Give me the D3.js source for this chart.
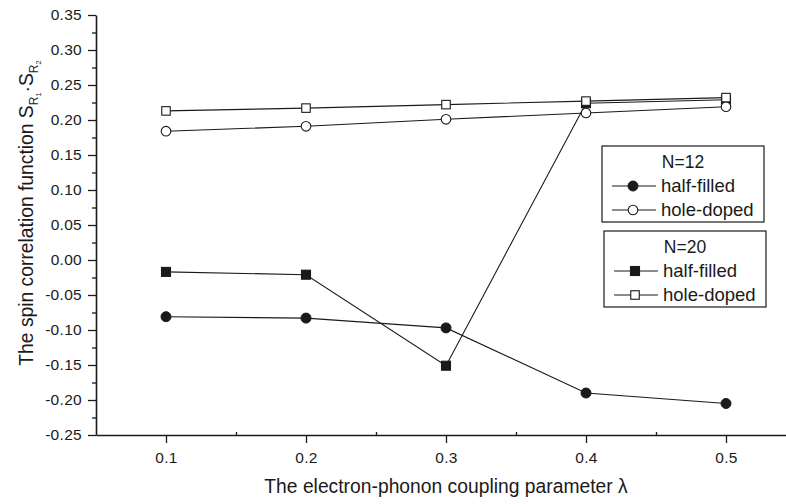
<!DOCTYPE html>
<html>
<head>
<meta charset="utf-8">
<script src="https://cdn.jsdelivr.net/npm/d3@7"></script>
<style>
  html, body { margin: 0; padding: 0; background: #fff; }
  svg text { font-family: "Liberation Sans", Arial, Helvetica, sans-serif; fill: #1a1a1a; }
  .axis text { font-size: 15.5px; letter-spacing: 0.3px; }
</style>
</head>
<body>
<svg id="chart" width="786" height="504"></svg>
<script>
// Electron-phonon coupling values along the x axis
const lambdas = [0.1, 0.2, 0.3, 0.4, 0.5];

// Spin correlation function for each system size and filling
const n12HalfFilled = [-0.081, -0.083, -0.097, -0.190, -0.205];
const n12HoleDoped  = [0.184, 0.191, 0.201, 0.210, 0.219];
const n20HalfFilled = [-0.017, -0.021, -0.151, 0.224, 0.229];
const n20HoleDoped  = [0.213, 0.217, 0.222, 0.227, 0.232];

const xTicks = [0.1, 0.2, 0.3, 0.4, 0.5];
const xMinorTicks = [0.15, 0.25, 0.35, 0.45, 0.55];
const yTicks = [0.35, 0.30, 0.25, 0.20, 0.15, 0.10, 0.05, 0.00, -0.05, -0.10, -0.15, -0.20, -0.25];
const yMinorTicks = [0.325, 0.275, 0.225, 0.175, 0.125, 0.075, 0.025, -0.025, -0.075, -0.125, -0.175, -0.225];

const series = [
  { group: "N=12", label: "half-filled", values: n12HalfFilled, shape: "circle", filled: true },
  { group: "N=12", label: "hole-doped",  values: n12HoleDoped,  shape: "circle", filled: false },
  { group: "N=20", label: "half-filled", values: n20HalfFilled, shape: "square", filled: true },
  { group: "N=20", label: "hole-doped",  values: n20HoleDoped,  shape: "square", filled: false }
];

const ink = "#1a1a1a";
const svg = d3.select("#chart");

const x = d3.scaleLinear().domain([0.05, 0.55]).range([96, 796]);
const y = d3.scaleLinear().domain([-0.25, 0.35]).range([435, 15]);

// plain hyphen for negative tick labels
const fmtY = d => d3.format(".2f")(d).replace("\u2212", "-");

// Axes: major ticks with labels, minor ticks without
svg.append("g").attr("class", "axis").attr("transform", "translate(0,435)")
  .call(d3.axisBottom(x).tickValues(xTicks).tickFormat(d3.format(".1f")).tickSize(8).tickPadding(9).tickSizeOuter(0))
  .attr("font-size", null).attr("font-family", null);
svg.append("g").attr("transform", "translate(0,435)")
  .call(d3.axisBottom(x).tickValues(xMinorTicks).tickFormat("").tickSize(-3).tickSizeOuter(0))
  .select(".domain").remove();

svg.append("g").attr("class", "axis").attr("transform", "translate(96,0)")
  .call(d3.axisLeft(y).tickValues(yTicks).tickFormat(fmtY).tickSize(8).tickPadding(6).tickSizeOuter(0))
  .attr("font-size", null).attr("font-family", null);
svg.append("g").attr("transform", "translate(96,0)")
  .call(d3.axisLeft(y).tickValues(yMinorTicks).tickFormat("").tickSize(4).tickSizeOuter(0))
  .select(".domain").remove();

svg.selectAll(".domain").attr("stroke", ink).attr("stroke-width", 1.6);
svg.selectAll(".tick line").attr("stroke", ink).attr("stroke-width", 1.3);
svg.selectAll(".tick text").attr("fill", ink);

// Axis titles
svg.append("text")
  .attr("x", 446).attr("y", 493)
  .attr("text-anchor", "middle").style("font-size", "19.3px")
  .text("The electron-phonon coupling parameter λ");

const yTitle = svg.append("text")
  .attr("transform", "translate(33,213) rotate(-90)")
  .attr("text-anchor", "middle").style("font-size", "19.3px");
yTitle.append("tspan").text("The spin correlation function S");
yTitle.append("tspan").style("font-size", "12px").attr("dy", 5).text("R");
yTitle.append("tspan").style("font-size", "7.5px").attr("dy", 3).text("1");
yTitle.append("tspan").attr("dy", -8).text("·S");
yTitle.append("tspan").style("font-size", "12px").attr("dy", 5).text("R");
yTitle.append("tspan").style("font-size", "7.5px").attr("dy", 3).text("2");

// Lines and markers
const line = d3.line().x(d => x(d[0])).y(d => y(d[1]));

function drawMarker(g, shape, filled, cx, cy) {
  if (shape === "circle") {
    g.append("circle").attr("cx", cx).attr("cy", cy).attr("r", filled ? 5 : 4.8)
      .attr("fill", filled ? ink : "#fff").attr("stroke", ink).attr("stroke-width", filled ? 1 : 1.1);
  } else {
    const s = filled ? 9 : 8.5;
    g.append("rect").attr("x", cx - s / 2).attr("y", cy - s / 2).attr("width", s).attr("height", s)
      .attr("fill", filled ? ink : "#fff").attr("stroke", ink).attr("stroke-width", 1.1);
  }
}

const plot = svg.append("g");
series.forEach(s => {
  const pts = lambdas.map((l, i) => [l, s.values[i]]);
  plot.append("path").datum(pts).attr("d", line)
    .attr("fill", "none").attr("stroke", ink).attr("stroke-width", 1.1);
});
// filled series first so open markers sit on top where they overlap
[series[0], series[2], series[1], series[3]].forEach(s => {
  const g = plot.append("g");
  lambdas.forEach((l, i) => drawMarker(g, s.shape, s.filled, x(l), y(s.values[i])));
});

// Legends, one box per system size
const legendBoxes = [
  { title: "N=12", top: 146, left: 602, items: [series[0], series[1]] },
  { title: "N=20", top: 231, left: 604, items: [series[2], series[3]] }
];
legendBoxes.forEach(b => {
  const g = svg.append("g").attr("transform", `translate(${b.left},${b.top})`);
  g.append("rect").attr("x", 0).attr("y", 0).attr("width", 162).attr("height", 76)
    .attr("fill", "#fff").attr("stroke", ink).attr("stroke-width", 1.2);
  g.append("text").attr("x", 81).attr("y", 22).attr("text-anchor", "middle")
    .style("font-size", "17.5px").text(b.title);
  b.items.forEach((s, i) => {
    const cy = 40 + i * 24;
    g.append("line").attr("x1", 10).attr("x2", 54).attr("y1", cy).attr("y2", cy)
      .attr("stroke", ink).attr("stroke-width", 1.1);
    drawMarker(g, s.shape, s.filled, 31, cy);
    g.append("text").attr("x", 59).attr("y", cy + 6).style("font-size", "18.5px").text(s.label);
  });
});
</script>
</body>
</html>
